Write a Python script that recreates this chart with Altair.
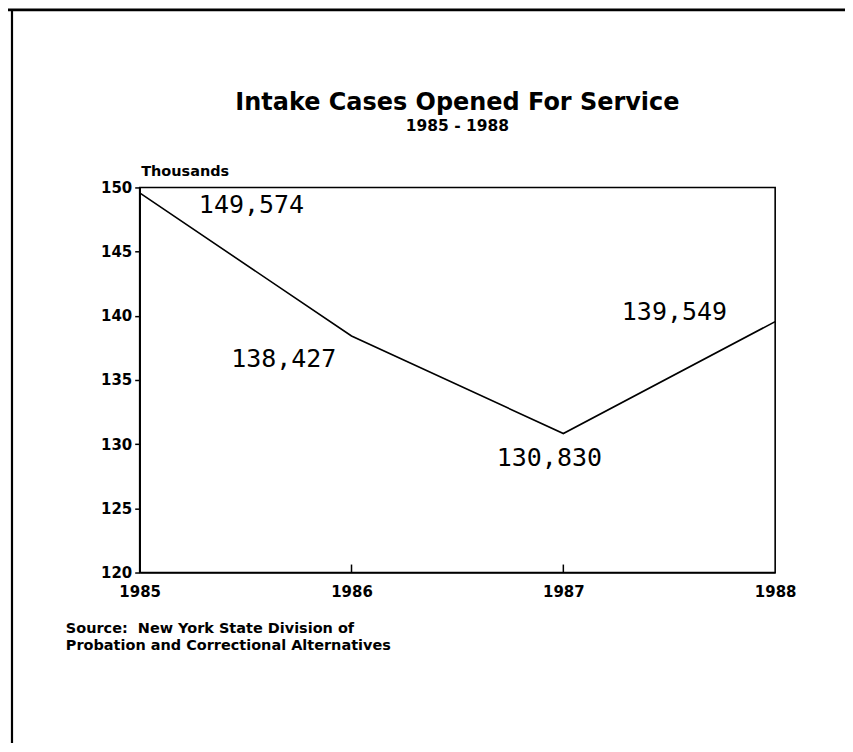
import altair as alt
import pandas as pd

years = [1985, 1986, 1987, 1988]
cases_thousands = [149.574, 138.427, 130.830, 139.549]
case_labels = ["149,574", "138,427", "130,830", "139,549"]
y_ticks = [120, 125, 130, 135, 140, 145, 150]
inner_tick_years = [1986, 1987]
title_text = "Intake Cases Opened For Service"
subtitle_text = "1985 - 1988"
y_title = "Thousands"
source_lines = ["Source:\u00a0 New York State Division of",
                "Probation and Correctional Alternatives"]

W, H = 637, 386
FONT = "DejaVu Sans"

df = pd.DataFrame({"year": years, "value": cases_thousands, "label": case_labels})

xs = alt.Scale(domain=[1985, 1988], nice=False, zero=False)
ys = alt.Scale(domain=[120, 150], nice=False, zero=False)

base = alt.Chart(df)

line = base.mark_line(color="black", strokeWidth=1.6).encode(
    x=alt.X("year:Q", scale=xs,
            axis=alt.Axis(values=years, format="d", title=None, tickSize=0,
                          labelPadding=12, labelFontSize=15, labelFontWeight="bold",
                          labelFont=FONT, labelColor="black", domainColor="black",
                          domainWidth=1.6, labelFlush=False)),
    y=alt.Y("value:Q", scale=ys,
            axis=alt.Axis(values=y_ticks, title=y_title, titleAngle=0, titleAlign="left",
                          titleX=1, titleY=-16, titleBaseline="middle",
                          titleFont=FONT, titleFontSize=14.5, titleFontWeight="bold",
                          titleColor="black", tickSize=5, tickColor="black",
                          tickWidth=1.5, labelPadding=3, labelFontSize=15,
                          labelFontWeight="bold", labelFont=FONT, labelColor="black",
                          domainColor="black", domainWidth=1.6)),
)

# label offsets (pixels) relative to each data point
offsets = {1985: (112, 12), 1986: (-68, 23), 1987: (-14, 25), 1988: (-101, -10)}
label_layers = []
for yr in years:
    dx, dy = offsets[yr]
    label_layers.append(
        base.transform_filter(alt.datum.year == yr).mark_text(
            font="DejaVu Sans Mono", fontSize=25, color="black",
            align="center", baseline="middle", dx=dx, dy=dy
        ).encode(x=alt.X("year:Q", scale=xs), y=alt.Y("value:Q", scale=ys), text="label:N")
    )

inner_ticks = alt.Chart(pd.DataFrame({"year": inner_tick_years})).mark_rule(
    color="black", strokeWidth=1.5
).encode(x=alt.X("year:Q", scale=xs), y=alt.value(H), y2=alt.value(H - 8))

title_mark = alt.Chart(pd.DataFrame({"t": [title_text]})).mark_text(
    font=FONT, fontSize=24, fontWeight="bold", color="black", align="center",
    baseline="middle"
).encode(x=alt.value(W / 2), y=alt.value(-85), text="t:N")

subtitle_mark = alt.Chart(pd.DataFrame({"t": [subtitle_text]})).mark_text(
    font=FONT, fontSize=15.5, fontWeight="bold", color="black", align="center",
    baseline="middle"
).encode(x=alt.value(W / 2), y=alt.value(-62), text="t:N")

source = alt.Chart(pd.DataFrame({"t": ["\n".join(source_lines)]})).mark_text(
    font=FONT, fontSize=14.5, fontWeight="bold", color="black", align="left",
    baseline="middle", lineBreak="\n", lineHeight=17
).encode(x=alt.value(-74), y=alt.value(H + 57), text="t:N")

one = pd.DataFrame({"k": [0]})
top_border = alt.Chart(one).mark_rule(color="black", strokeWidth=3).encode(
    x=alt.value(-140), x2=alt.value(W + 80), y=alt.value(-178))
left_border = alt.Chart(one).mark_rule(color="black", strokeWidth=2.2).encode(
    x=alt.value(-128), y=alt.value(-179), y2=alt.value(H + 175))

chart = alt.layer(line, *label_layers, inner_ticks, title_mark, subtitle_mark, source,
                  top_border, left_border).properties(
    width=W, height=H,
    padding={"left": 132, "top": 179, "right": 70, "bottom": 170},
    autosize="none",
).configure_view(stroke="black", strokeWidth=1.6).configure_axis(grid=False)

chart.save("out.html", embed_options={"renderer": "svg", "actions": False})
